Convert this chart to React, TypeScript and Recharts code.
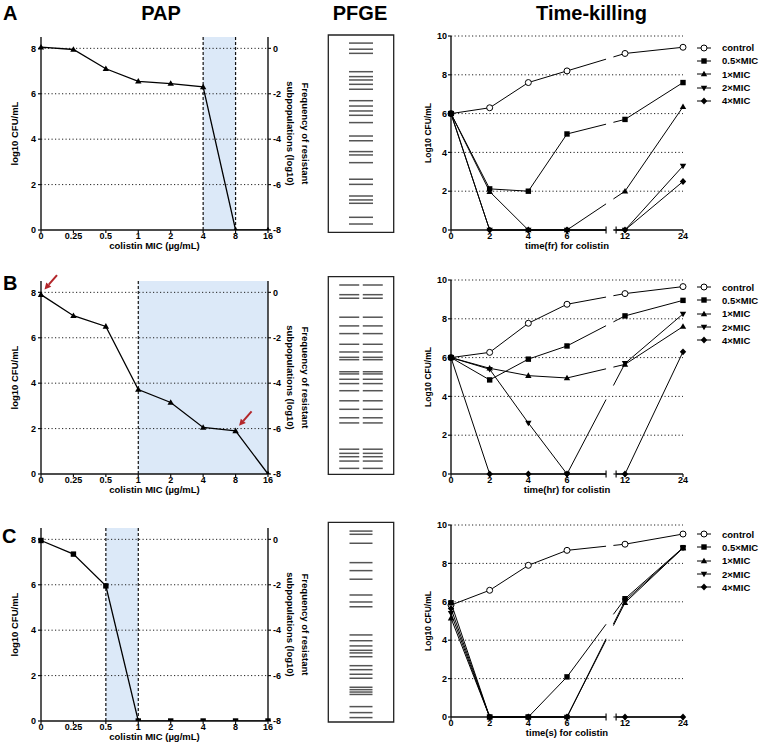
import React from 'react';
import {
  LineChart, Line, XAxis, YAxis, ReferenceArea, ReferenceLine, ReferenceDot,
  ScatterChart, Scatter, Legend,
} from 'recharts';

const FONT = '"Liberation Sans", Arial, Helvetica, sans-serif';

// ---------- PAP data ----------
const micLabels = ['0', '0.25', '0.5', '1', '2', '4', '8', '16'];
const papA = [8.05, 7.95, 7.1, 6.55, 6.45, 6.3, 0, 0];
const papB = [7.9, 6.97, 6.5, 3.72, 3.15, 2.05, 1.9, 0];
const papC = [7.95, 7.35, 5.95, 0, 0, 0, 0, 0];
const papLeftTicks = [0, 2, 4, 6, 8];
const papRightTicks = [-8, -6, -4, -2, 0];
const heteroA = ['4', '8'];
const heteroB = ['1', '16'];
const heteroC = ['0.5', '1'];
const arrowMicB = ['0', '8'];

// ---------- PFGE band positions (% of gel length from top) ----------
const gelA = [4.1, 7.2, 9.3, 18.6, 21.1, 22.8, 25.0, 27.5, 33.3, 36.0, 38.5, 40.7, 44.4, 51.2, 53.6, 59.1, 60.8, 64.7, 73.1, 75.7, 81.6, 83.6, 85.3, 92.4, 95.8];
const gelB = [4.2, 9.1, 10.9, 20.5, 24.9, 28.8, 34.2, 38.1, 40.8, 42.0, 48.1, 49.2, 51.9, 54.1, 57.7, 62.8, 67.1, 71.4, 74.0, 87.3, 89.4, 91.1, 93.3, 97.0];
const gelC = [4.4, 6.0, 10.5, 20.2, 24.2, 28.5, 36.4, 39.9, 42.3, 56.4, 59.3, 61.9, 64.1, 65.4, 67.3, 71.8, 73.8, 76.1, 78.1, 82.6, 83.8, 85.0, 86.2, 92.3, 95.3, 97.8];

// ---------- Time-killing data ----------
const timeHours = [0, 2, 4, 6, 12, 24];
const tkNames = ['control', '0.5×MIC', '1×MIC', '2×MIC', '4×MIC'];
const tkYTicks = [0, 2, 4, 6, 8, 10];

const tkAControl = [6.0, 6.3, 7.6, 8.2, 9.1, 9.42];
const tkAHalf = [6.0, 2.12, 2.0, 4.95, 5.7, 7.6];
const tkA1x = [6.0, 1.98, 0, 0, 2.0, 6.35];
const tkA2x = [6.0, 0, 0, 0, 0, 3.3];
const tkA4x = [6.0, 0, 0, 0, 0, 2.5];

const tkBControl = [6.0, 6.27, 7.77, 8.75, 9.3, 9.66];
const tkBHalf = [6.0, 4.85, 5.92, 6.6, 8.15, 8.95];
const tkB1x = [6.0, 5.45, 5.07, 4.95, 5.65, 7.6];
const tkB2x = [6.0, 5.4, 2.63, 0, 5.7, 8.25];
const tkB4x = [6.0, 0, 0, 0, 0, 6.3];

const tkCControl = [5.83, 6.6, 7.9, 8.68, 9.0, 9.53];
const tkCHalf = [5.95, 0, 0, 2.09, 6.16, 8.82];
const tkC1x = [5.15, 0, 0, 0, 5.95, 8.8];
const tkC2x = [5.4, 0, 0, 0, 6.05, 8.8];
const tkC4x = [5.65, 0, 0, 0, 0, 0];

const tkMarkers = ['circle', 'square', 'up', 'down', 'diamond'];

// broken time axis: 0-6 h linear, break, then 12-24 h compressed
const timeToAxis = (h: number) => (h <= 6 ? h : 9 + (h - 12) / 4);
const tkTickPos = timeHours.map(timeToAxis);
const fmtTime = (v: number) => {
  const k = tkTickPos.indexOf(v);
  return k >= 0 ? String(timeHours[k]) : '';
};
const BREAK_L = 8.02;
const BREAK_R = 8.54;
const LINE_GAP_R = 8.4;
const LAST_PRE = 3; // index of 6 h
const FIRST_POST = 4; // index of 12 h
const crossSpan = tkTickPos[FIRST_POST] - tkTickPos[LAST_PRE];
const gapF1 = (BREAK_L - tkTickPos[LAST_PRE]) / crossSpan;
const gapF2 = (LINE_GAP_R - tkTickPos[LAST_PRE]) / crossSpan;
const crossDash = `${gapF1} ${gapF2 - gapF1} 2`;

const tickStyle = { fill: '#000', fontSize: 9, fontWeight: 700, fontFamily: FONT };
const axisStyle = { stroke: '#111', strokeWidth: 1.4 };
const tickLineStyle = { stroke: '#111', strokeWidth: 1.2 };

function Marker({ kind, cx, cy }: { kind: string; cx: number; cy: number }) {
  if (cx == null || cy == null || isNaN(cx) || isNaN(cy)) return null;
  switch (kind) {
    case 'circle':
      return <circle cx={cx} cy={cy} r={3} fill="#fff" stroke="#000" strokeWidth={1} />;
    case 'square':
      return <rect x={cx - 2.7} y={cy - 2.7} width={5.4} height={5.4} fill="#000" />;
    case 'up':
      return <path d={`M${cx},${cy - 3.3}L${cx + 3.2},${cy + 2.3}L${cx - 3.2},${cy + 2.3}Z`} fill="#000" />;
    case 'down':
      return <path d={`M${cx},${cy + 3.3}L${cx + 3.2},${cy - 2.3}L${cx - 3.2},${cy - 2.3}Z`} fill="#000" />;
    case 'diamond':
      return <path d={`M${cx},${cy - 3.4}L${cx + 3.2},${cy}L${cx},${cy + 3.4}L${cx - 3.2},${cy}Z`} fill="#000" />;
    default:
      return null;
  }
}

function RedArrow({ cx, cy }: { cx: number; cy: number }) {
  const hx = cx + 3.5, hy = cy - 5;
  const tx = cx + 16, ty = cy - 19.5;
  const dx = hx - tx, dy = hy - ty;
  const L = Math.hypot(dx, dy);
  const ux = dx / L, uy = dy / L;
  const hl = 6.5, hw = 3.3;
  const bx = hx - ux * hl, by = hy - uy * hl;
  const px = -uy, py = ux;
  return (
    <g>
      <line x1={tx} y1={ty} x2={bx} y2={by} stroke="#b3262a" strokeWidth={2} />
      <path d={`M${hx},${hy}L${bx + px * hw},${by + py * hw}L${bx - px * hw},${by - py * hw}Z`} fill="#b3262a" />
    </g>
  );
}

function PAP({ top, values, band, dashed, marker, arrows }: any) {
  const data = micLabels.map((m, i) => ({ i, v: values[i] }));
  const ix = (m: string) => micLabels.indexOf(m);
  return (
    <div style={{ position: 'absolute', left: 0, top }}>
      <LineChart width={320} height={252} data={data} margin={{ top: 37, right: 22, bottom: 2, left: 0 }}>
        <XAxis type="number" dataKey="i" domain={[0, 7]} ticks={micLabels.map((_, i) => i)} interval={0}
          tickFormatter={(v: number) => micLabels[v]} axisLine={axisStyle} tickLine={tickLineStyle}
          tickSize={3} tickMargin={0} height={20} tick={tickStyle} />
        <YAxis yAxisId={0} type="number" domain={[0, 8.5]} ticks={papLeftTicks} interval={0} width={41}
          axisLine={axisStyle} tickLine={tickLineStyle} tickSize={3} tickMargin={2} tick={tickStyle} allowDataOverflow />
        <YAxis yAxisId="r" orientation="right" type="number" domain={[-8, 0.5]} ticks={papRightTicks} interval={0}
          width={30} axisLine={axisStyle} tickLine={tickLineStyle} tickSize={3} tickMargin={2} tick={tickStyle} allowDataOverflow />
        <ReferenceArea x1={ix(band[0])} x2={ix(band[1])} y1={0} y2={8.5} fill="rgb(168,200,238)" fillOpacity={0.4} stroke="none" />
        {papLeftTicks.filter((t) => t > 0).map((t) => (
          <ReferenceLine key={'g' + t} y={t} stroke="#222" strokeWidth={1} strokeDasharray="1.2 2.3" />
        ))}
        {dashed.map((m: string) => (
          <ReferenceLine key={'d' + m} x={ix(m)} stroke="#111" strokeWidth={1.2} strokeDasharray="3 2" />
        ))}
        <Line type="linear" dataKey="v" stroke="#000" strokeWidth={1.3} isAnimationActive={false} activeDot={false}
          dot={(p: any) => <Marker key={'m' + p.index} kind={marker} cx={p.cx} cy={p.cy} />} />
        {(arrows || []).map((m: string) => (
          <ReferenceDot key={'a' + m} x={ix(m)} y={values[ix(m)]} r={0} ifOverflow="visible"
            shape={(p: any) => <RedArrow cx={p.cx} cy={p.cy} />} />
        ))}
      </LineChart>
    </div>
  );
}

function Gel({ top, bands, lanes, laneHalf, mTop, mBottom }: any) {
  const data = lanes.flatMap((l: number) => bands.map((b: number) => ({ lane: l, pos: b })));
  return (
    <div style={{ position: 'absolute', left: 300, top }}>
      <ScatterChart width={120} height={240} margin={{ top: mTop, right: 26.3, bottom: mBottom, left: 28.3 }}>
        <XAxis type="number" dataKey="lane" domain={[0, 1]} hide />
        <YAxis type="number" dataKey="pos" domain={[0, 100]} reversed hide />
        <ReferenceArea x1={0} x2={1} y1={0} y2={100} fill="none" stroke="#222" strokeWidth={1.3} />
        <Scatter data={data} isAnimationActive={false}
          shape={(p: any) => (
            <line x1={p.cx - laneHalf} x2={p.cx + laneHalf} y1={p.cy} y2={p.cy} stroke="#555" strokeWidth={1.5} />
          )} />
      </ScatterChart>
    </div>
  );
}

function TKLegend() {
  return (
    <div style={{ fontFamily: FONT, fontWeight: 700, fontSize: 9.5, color: '#000' }}>
      {tkNames.map((name: string, i: number) => (
        <div key={name} style={{ display: 'flex', alignItems: 'center', height: 13.3 }}>
          <svg width={14} height={10} style={{ display: 'block' }}>
            <line x1={0} x2={14} y1={5} y2={5} stroke="#000" strokeWidth={1} />
            <Marker kind={tkMarkers[i]} cx={7} cy={5} />
          </svg>
          <span style={{ marginLeft: 11, whiteSpace: 'nowrap' }}>{name}</span>
        </div>
      ))}
    </div>
  );
}

function TimeKill({ top, height, series, legendTop }: any) {
  const data = timeHours.map((h, i) => {
    const row: any = { t: timeToAxis(h) };
    series.forEach((s: number[], k: number) => {
      row['pre' + k] = i <= LAST_PRE ? s[i] : null;
      row['post' + k] = i >= FIRST_POST ? s[i] : null;
      row['cross' + k] = i === LAST_PRE || i === FIRST_POST ? s[i] : null;
    });
    return row;
  });
  const axisLineProps = { stroke: '#111', strokeWidth: 1.4 };
  return (
    <div style={{ position: 'absolute', left: 410, top }}>
      <LineChart width={350} height={height} data={data} margin={{ top: 36, right: 77, bottom: 2, left: 0 }}>
        <XAxis type="number" dataKey="t" domain={[0, 12]} ticks={tkTickPos} interval={0} tickFormatter={fmtTime}
          axisLine={false} tickLine={tickLineStyle} tickSize={3} tickMargin={0} height={20} tick={tickStyle} />
        <YAxis type="number" domain={[0, 10]} ticks={tkYTicks} interval={0} width={41}
          axisLine={axisStyle} tickLine={tickLineStyle} tickSize={3} tickMargin={1} tick={tickStyle} />
        {tkYTicks.filter((t) => t > 0).map((t) => (
          <ReferenceLine key={'g' + t} y={t} stroke="#222" strokeWidth={1} strokeDasharray="1.2 2.3" />
        ))}
        <ReferenceLine segment={[{ x: 0, y: 0 }, { x: BREAK_L, y: 0 }]} {...axisLineProps} />
        <ReferenceLine segment={[{ x: BREAK_R, y: 0 }, { x: 12, y: 0 }]} {...axisLineProps} />
        <ReferenceLine segment={[{ x: BREAK_L, y: -0.18 }, { x: BREAK_L, y: 0.18 }]} ifOverflow="visible" stroke="#111" strokeWidth={1.2} />
        <ReferenceLine segment={[{ x: BREAK_R, y: -0.18 }, { x: BREAK_R, y: 0.18 }]} ifOverflow="visible" stroke="#111" strokeWidth={1.2} />
        {series.map((_: any, k: number) => (
          <Line key={'c' + k} type="linear" dataKey={'cross' + k} stroke="#000" strokeWidth={1}
            pathLength={1} strokeDasharray={crossDash} legendType="none"
            isAnimationActive={false} activeDot={false} dot={false} />
        ))}
        {series.map((_: any, k: number) => (
          <Line key={'a' + k} type="linear" dataKey={'pre' + k} name={tkNames[k]} stroke="#000" strokeWidth={1}
            isAnimationActive={false} activeDot={false}
            dot={(p: any) => <Marker key={'d' + k + '-' + p.index} kind={tkMarkers[k]} cx={p.cx} cy={p.cy} />} />
        ))}
        {series.map((_: any, k: number) => (
          <Line key={'b' + k} type="linear" dataKey={'post' + k} stroke="#000" strokeWidth={1} legendType="none"
            isAnimationActive={false} activeDot={false}
            dot={(p: any) => <Marker key={'e' + k + '-' + p.index} kind={tkMarkers[k]} cx={p.cx} cy={p.cy} />} />
        ))}
        <Legend layout="vertical" align="center" verticalAlign="middle"
          wrapperStyle={{ left: 287, top: legendTop, width: 80, height: 'auto' }} content={TKLegend} />
      </LineChart>
    </div>
  );
}

const titleStyle: any = { fontFamily: FONT, fontWeight: 700, fontSize: 20, fill: '#000' };
const labStyle: any = { fontFamily: FONT, fontWeight: 700, fontSize: 9.5, fill: '#000' };
const tkLabStyle: any = { fontFamily: FONT, fontWeight: 700, fontSize: 8.5, fill: '#000' };

function VText({ x, y, angle, children, style }: any) {
  return (
    <text x={x} y={y} transform={`rotate(${angle}, ${x}, ${y})`} textAnchor="middle" dominantBaseline="central" style={style}>
      {children}
    </text>
  );
}

function Overlay() {
  const papCenters = [133.5, 377.5, 624.5];
  const papBottoms = [230, 474, 721];
  const tkCenters = [133, 377, 621];
  const tkBottoms = [230, 474, 717];
  const tkXLabels = ['time(fr) for colistin', 'time(hr) for colistin', 'time(s) for colistin'];
  return (
    <svg width={760} height={749} style={{ position: 'absolute', left: 0, top: 0 }}>
      <text x={3} y={20} style={titleStyle}>A</text>
      <text x={3} y={290} style={titleStyle}>B</text>
      <text x={2} y={542.5} style={titleStyle}>C</text>
      <text x={161} y={20} textAnchor="middle" style={titleStyle}>PAP</text>
      <text x={360} y={20} textAnchor="middle" style={titleStyle}>PFGE</text>
      <text x={591.5} y={20} textAnchor="middle" style={titleStyle}>Time-killing</text>
      {papCenters.map((cy, k) => (
        <g key={'p' + k}>
          <VText x={14} y={cy} angle={-90} style={labStyle}>log10 CFU/mL</VText>
          <VText x={305} y={cy} angle={90} style={labStyle}>Frequency of resistant</VText>
          <VText x={290} y={cy} angle={90} style={labStyle}>subpopulations (log10)</VText>
          <text x={154.5} y={papBottoms[k] + 19} textAnchor="middle" style={labStyle}>colistin MIC (µg/mL)</text>
        </g>
      ))}
      {tkCenters.map((cy, k) => (
        <g key={'t' + k}>
          <VText x={428} y={cy} angle={-90} style={tkLabStyle}>Log10 CFU/mL</VText>
          <text x={567} y={tkBottoms[k] + 19} textAnchor="middle" style={labStyle}>{tkXLabels[k]}</text>
        </g>
      ))}
    </svg>
  );
}

export default function App() {
  return (
    <div style={{ position: 'absolute', left: 0, top: 0, width: 760, height: 749, background: '#fff', overflow: 'hidden' }}>
      <Overlay />
      <PAP top={0} values={papA} band={heteroA} dashed={heteroA} marker="up" />
      <PAP top={244} values={papB} band={heteroB} dashed={[heteroB[0]]} marker="up" arrows={arrowMicB} />
      <PAP top={491} values={papC} band={heteroC} dashed={heteroC} marker="square" />
      <Gel top={0} bands={gelA} lanes={[0.5]} laneHalf={12} mTop={35} mBottom={7.7} />
      <Gel top={244} bands={gelB} lanes={[0.32, 0.68]} laneHalf={10} mTop={32.7} mBottom={9.7} />
      <Gel top={489} bands={gelC} lanes={[0.5]} laneHalf={11.5} mTop={33.3} mBottom={7} />
      <TimeKill top={0} height={252} legendTop={41} series={[tkAControl, tkAHalf, tkA1x, tkA2x, tkA4x]} />
      <TimeKill top={244} height={252} legendTop={36.5} series={[tkBControl, tkBHalf, tkB1x, tkB2x, tkB4x]} />
      <TimeKill top={489} height={250} legendTop={38.5} series={[tkCControl, tkCHalf, tkC1x, tkC2x, tkC4x]} />
    </div>
  );
}
